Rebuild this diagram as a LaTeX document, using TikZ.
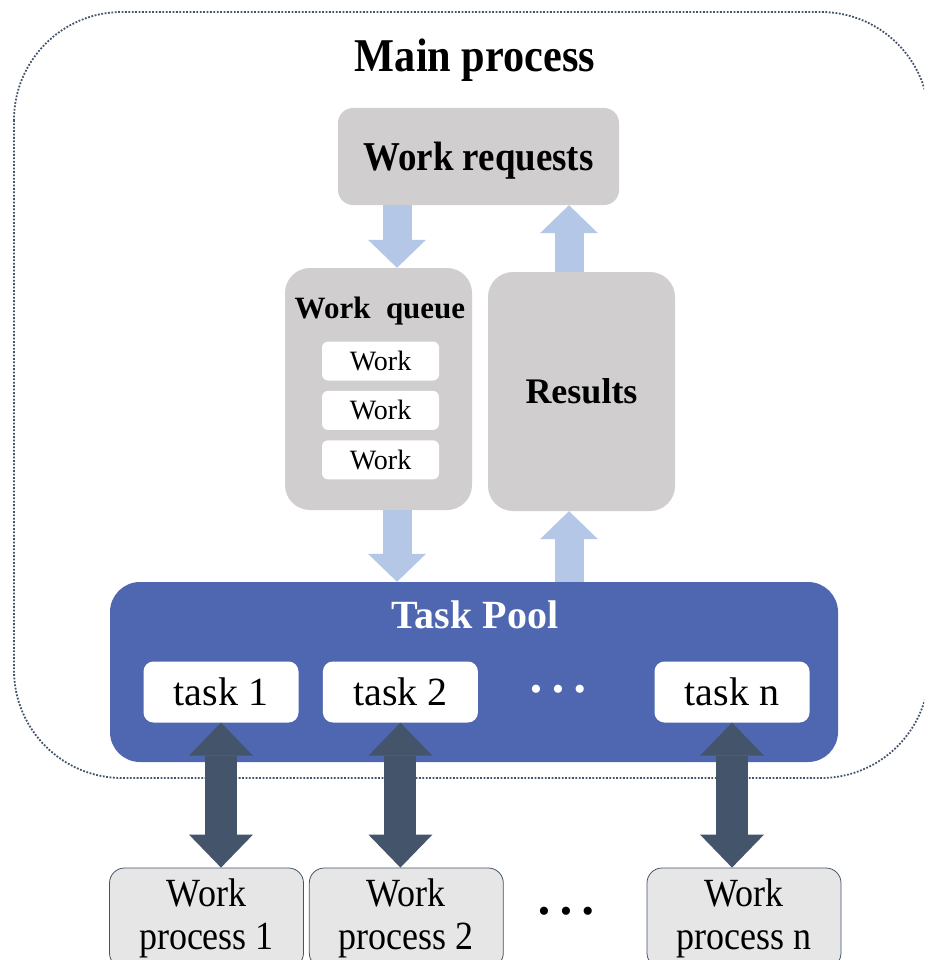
\documentclass[tikz,border=0pt]{standalone}
\usepackage{fontspec}
\setmainfont{Liberation Serif}
\newfontfamily\narrowserif[FakeStretch=0.9]{Liberation Serif}
\usepackage{tikz}
\usetikzlibrary{arrows.meta, positioning, calc}

\definecolor{boxgray}{HTML}{D0CECE}
\definecolor{procgray}{HTML}{E7E6E6}
\definecolor{flowblue}{HTML}{B4C7E7}
\definecolor{slate}{HTML}{44546A}
\definecolor{poolblue}{HTML}{4E67B0}

\tikzset{
    mainframe/.style={draw=slate, line width=1.8pt, dash pattern=on 1.8pt off 1.6pt, rounded corners=108pt},
    graybox/.style={fill=boxgray, inner sep=0pt},
    workitem/.style={fill=white, rounded corners=6pt, minimum width=117pt, minimum height=39pt, font=\fontsize{28}{30}\selectfont},
    taskbox/.style={fill=white, rounded corners=10pt, minimum width=155pt, minimum height=61pt, font=\fontsize{40}{44}\selectfont},
    procbox/.style={draw=slate, line width=0.8pt, fill=procgray, rounded corners=15pt, minimum width=194pt, minimum height=100pt, align=center, font=\narrowserif\fontsize{40}{43}\selectfont},
    dots/.style={font=\fontsize{34}{36}\selectfont},
    flow/.style={draw=flowblue, line width=29pt, -{Triangle[length=28pt, width=58pt, line width=0pt]}},
    link/.style={draw=slate, line width=32pt, {Triangle[length=33pt, width=64pt, line width=0pt]}-{Triangle[length=33pt, width=64pt, line width=0pt]}}
}

\begin{document}
\begin{tikzpicture}[x=1pt, y=-1pt]
    \useasboundingbox (0,0) rectangle (924,960);
    \clip (0,0) rectangle (924,960);

    % Main process frame
    \draw[mainframe] (14,12) rectangle (929,778);
    \node[anchor=base, font=\narrowserif\bfseries\fontsize{47}{50}\selectfont] (title) at (475,72) {Main process};

    % Requests, queue and results
    \node[graybox, rounded corners=15pt, minimum width=281pt, minimum height=97pt, text height=28pt, text depth=0pt, font=\narrowserif\bfseries\fontsize{41}{44}\selectfont] (wr) at (478.5,156.5) {Work requests};
    \node[graybox, rounded corners=25pt, minimum width=187pt, minimum height=242pt] (wq) at (378.5,389) {};
    \node[anchor=base, font=\bfseries\fontsize{31}{34}\selectfont] (wqtitle) at (380,318) {Work\ \ queue};
    \node[workitem] (wi1) at (380.5,361) {Work};
    \node[workitem, below=10pt of wi1] (wi2) {Work};
    \node[workitem, below=10pt of wi2] (wi3) {Work};
    \node[graybox, rounded corners=25pt, minimum width=187pt, minimum height=239pt, font=\bfseries\fontsize{36}{40}\selectfont] (res) at (581.5,391.5) {Results};

    % Task pool
    \node[fill=poolblue, rounded corners=30pt, minimum width=728pt, minimum height=180pt] (pool) at (474,672) {};
    \node[anchor=base, text=white, font=\bfseries\fontsize{40}{44}\selectfont] (pooltitle) at (475,628) {Task Pool};
    \node[taskbox] (t1) at (221,692) {task 1};
    \node[taskbox, right=24pt of t1] (t2) {task 2};
    \node[taskbox] (tn) at (732,692) {task n};
    \node[dots, text=white] (tdots) at (558,693) {•\hspace{10pt}•\hspace{10pt}•};

    % Work processes
    \node[procbox] (wp1) at (206.5,918) {Work\\process 1};
    \node[procbox, right=5pt of wp1] (wp2) {Work\\process 2};
    \node[procbox] (wpn) at (744,918) {Work\\process n};
    \node[dots] (wpdots) at (566,915) {•\hspace{10pt}•\hspace{10pt}•};

    % Flow arrows
    \coordinate (qx) at (397,0);
    \coordinate (rx) at (569,0);
    \draw[flow] (wr.south -| qx) -- (wq.north -| qx);
    \draw[flow] (wq.south -| qx) -- (pool.north -| qx);
    \draw[flow] (pool.north -| rx) -- (res.south -| rx);
    \draw[flow] (res.north -| rx) -- (wr.south -| rx);

    % Task <-> process links
    \draw[link] (t1.south) -- (t1.south |- wp1.north);
    \draw[link] (t2.south) -- (t2.south |- wp2.north);
    \draw[link] (tn.south) -- (tn.south |- wpn.north);

\end{tikzpicture}
\end{document}
